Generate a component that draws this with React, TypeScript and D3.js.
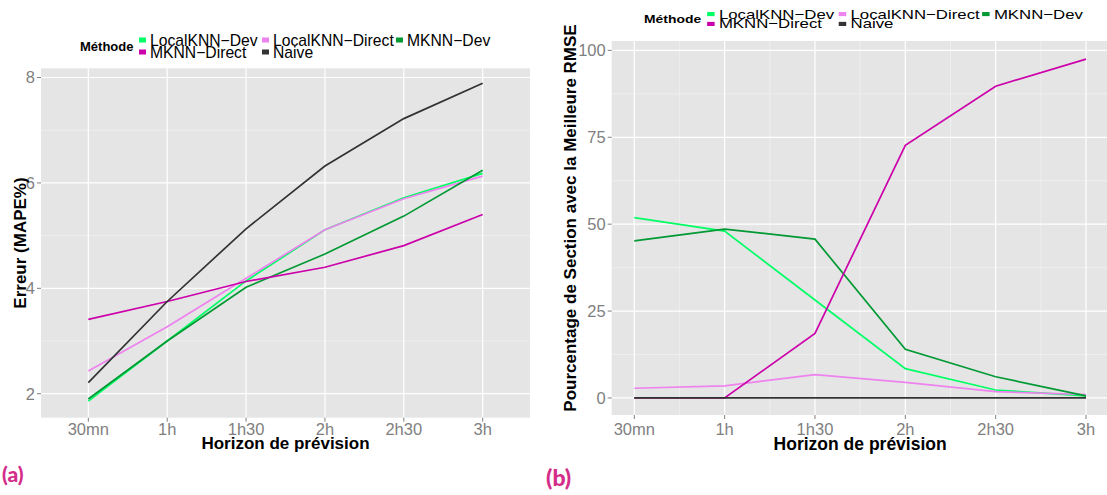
import React from "react";
import * as d3 from "d3";

// horizons and methods
const categories = ["30mn", "1h", "1h30", "2h", "2h30", "3h"];
const methods = ["LocalKNN−Dev", "LocalKNN−Direct", "MKNN−Dev", "MKNN−Direct", "Naive"];
const colors = ["#00FF66", "#EE82EE", "#009933", "#CC00AA", "#333333"];

// (a) erreur MAPE %
const mapeLocalDev = [1.86, 3.0, 4.14, 5.11, 5.72, 6.18];
const mapeLocalDirect = [2.43, 3.27, 4.19, 5.11, 5.7, 6.13];
const mapeMknnDev = [1.9, 3.0, 4.02, 4.65, 5.37, 6.24];
const mapeMknnDirect = [3.41, 3.75, 4.13, 4.4, 4.81, 5.4];
const mapeNaive = [2.21, 3.75, 5.13, 6.32, 7.22, 7.89];
const mapeTicks = [2, 4, 6, 8];
const mapeMinor = [3, 5, 7];

// (b) pourcentage de sections avec la meilleure RMSE
const pctLocalDev = [51.9, 48.0, 28.2, 8.45, 2.3, 0.6];
const pctLocalDirect = [2.8, 3.5, 6.7, 4.5, 1.8, 1.0];
const pctMknnDev = [45.2, 48.6, 45.7, 14.0, 6.1, 0.6];
const pctMknnDirect = [0, 0, 18.6, 72.7, 89.7, 97.5];
const pctNaive = [0, 0, 0, 0, 0, 0];
const pctTicks = [0, 25, 50, 75, 100];
const pctMinor = [12.5, 37.5, 62.5, 87.5];

const seriesA = [mapeLocalDev, mapeLocalDirect, mapeMknnDev, mapeMknnDirect, mapeNaive];
const seriesB = [pctLocalDev, pctLocalDirect, pctMknnDev, pctMknnDirect, pctNaive];

const FONT = "'Liberation Sans', Arial, Helvetica, sans-serif";
const GREY = "#7F7F7F";

const Legend = ({ transform }: { transform: string }) => {
  // 3 columns, filled by row
  const colX = [59, 182, 316];
  const rowY = [-6, 6];
  return (
    <g transform={transform} fontFamily={FONT}>
      <text x={0} y={5} fontSize={13} fontWeight="bold">Méthode</text>
      {methods.map((m, i) => {
        const cx = colX[i % 3];
        const cy = rowY[Math.floor(i / 3)];
        return (
          <g key={m}>
            <rect x={cx} y={cy - 2.5} width={7} height={5} fill={colors[i]} />
            <text x={cx + 11} y={cy + 5.5} fontSize={15.7}>{m}</text>
          </g>
        );
      })}
    </g>
  );
};

interface PanelProps {
  x: (i: number) => number;
  y: d3.ScaleLinear<number, number>;
  left: number;
  right: number;
  top: number;
  bottom: number;
  series: number[][];
  yTicks: number[];
  yMinor: number[];
  xMinor: number[];
  clipId: string;
}

const Panel = ({ x, y, left, right, top, bottom, series, yTicks, yMinor, xMinor, clipId }: PanelProps) => {
  const line = d3
    .line<number>()
    .x((_, i) => x(i))
    .y((d) => y(d));
  return (
    <g fontFamily={FONT}>
      <defs>
        <clipPath id={clipId}>
          <rect x={left} y={top} width={right - left} height={bottom - top} />
        </clipPath>
      </defs>
      <rect x={left} y={top} width={right - left} height={bottom - top} fill="#E5E5E5" />
      {yMinor.map((v) => (
        <line key={"ym" + v} x1={left} x2={right} y1={y(v)} y2={y(v)} stroke="#F2F2F2" strokeWidth={0.7} />
      ))}
      {xMinor.map((v) => (
        <line key={"xm" + v} x1={x(v)} x2={x(v)} y1={top} y2={bottom} stroke="#F2F2F2" strokeWidth={0.7} />
      ))}
      {yTicks.map((v) => (
        <line key={"y" + v} x1={left} x2={right} y1={y(v)} y2={y(v)} stroke="#FFFFFF" strokeWidth={1.2} />
      ))}
      {categories.map((c, i) => (
        <line key={"x" + c} x1={x(i)} x2={x(i)} y1={top} y2={bottom} stroke="#FFFFFF" strokeWidth={1.2} />
      ))}
      <g clipPath={`url(#${clipId})`}>
        {series.map((s, k) => (
          <path key={methods[k]} d={line(s) || ""} fill="none" stroke={colors[k]} strokeWidth={1.7} />
        ))}
      </g>
      {yTicks.map((v) => (
        <g key={"yl" + v}>
          <line x1={left - 4} x2={left} y1={y(v)} y2={y(v)} stroke={GREY} strokeWidth={1} />
          <text x={left - 6} y={y(v)} dy="0.36em" textAnchor="end" fontSize={16.5} fill={GREY}>
            {v}
          </text>
        </g>
      ))}
      {categories.map((c, i) => (
        <g key={"xl" + c}>
          <line x1={x(i)} x2={x(i)} y1={bottom} y2={bottom + 4} stroke={GREY} strokeWidth={1} />
          <text x={x(i)} y={434.5} textAnchor="middle" fontSize={16.5} fill={GREY}>
            {c}
          </text>
        </g>
      ))}
    </g>
  );
};

const App = () => {
  // panel (a): discrete x axis
  const aL = 41, aR = 530, aT = 68.3, aB = 417.7;
  const xa = d3.scalePoint<string>().domain(categories).range([aL, aR]).padding(0.6);
  const ya = d3.scaleLinear().domain([1.545, 8.175]).range([aB, aT]);

  // panel (b): continuous x axis
  const bL = 611.7, bR = 1108.6, bT = 41, bB = 415;
  const xb = d3.scaleLinear().domain([0.75, 6.25]).range([bL, bR]);
  const yb = d3.scaleLinear().domain([-4.9, 102.7]).range([bB, bT]);

  return (
    <div style={{ position: "absolute", left: 0, top: 0 }}>
      <svg width={1107} height={495} style={{ display: "block", background: "#fff" }}>
        <Legend transform="translate(80,46)" />
        <Panel
          x={(i) => xa(categories[Math.round(i)]) as number}
          y={ya}
          left={aL}
          right={aR}
          top={aT}
          bottom={aB}
          series={seriesA}
          yTicks={mapeTicks}
          yMinor={mapeMinor}
          xMinor={[]}
          clipId="clipA"
        />
        <text x={(aL + aR) / 2} y={449} textAnchor="middle" fontFamily={FONT} fontSize={17} fontWeight="bold">
          Horizon de prévision
        </text>
        <text
          transform={`translate(26,${(aT + aB) / 2}) rotate(-90)`}
          textAnchor="middle"
          fontFamily={FONT}
          fontSize={17}
          fontWeight="bold"
        >
          Erreur (MAPE%)
        </text>
        <text x={2} y={482} fontFamily="Lato, 'Open Sans', sans-serif" fontSize={21} fontWeight="900" fill="#D42E8A">
          (a)
        </text>

        <Legend transform="translate(644,19) scale(1.07,0.82)" />
        <Panel
          x={(i) => xb(i + 1)}
          y={yb}
          left={bL}
          right={bR}
          top={bT}
          bottom={bB}
          series={seriesB}
          yTicks={pctTicks}
          yMinor={pctMinor}
          xMinor={[0.5, 1.5, 2.5, 3.5, 4.5]}
          clipId="clipB"
        />
        <text x={(bL + bR) / 2} y={450} textAnchor="middle" fontFamily={FONT} fontSize={17.5} fontWeight="bold">
          Horizon de prévision
        </text>
        <text
          transform="translate(576,218) rotate(-90)"
          textAnchor="middle"
          fontFamily={FONT}
          fontSize={17}
          fontWeight="bold"
        >
          Pourcentage de Section avec la Meilleure RMSE
        </text>
        <text x={546} y={486} fontFamily="Lato, 'Open Sans', sans-serif" fontSize={23} fontWeight="900" fill="#D42E8A">
          (b)
        </text>
      </svg>
    </div>
  );
};

export default App;
